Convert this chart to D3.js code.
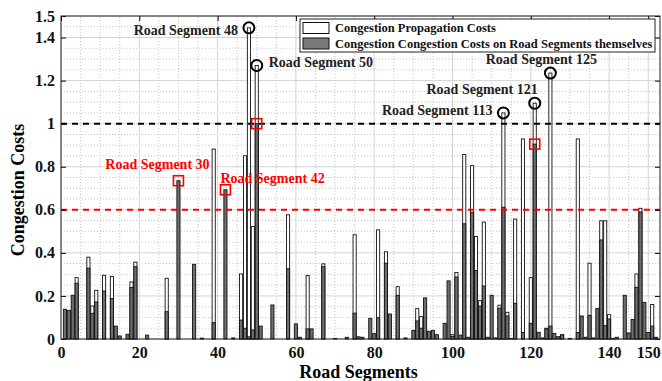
<!DOCTYPE html>
<html lang="en">
<head>
<meta charset="utf-8">
<script src="https://d3js.org/d3.v7.min.js"></script>
<style>
    body { margin: 0; background: #fff; }
    text { font-family: "Liberation Serif", "Times New Roman", serif; font-weight: bold; }
    .grid-major line { stroke: #d4d4d4; stroke-width: 1; }
    .grid-minor line { stroke: #c4c4c4; stroke-width: 1; stroke-dasharray: 1,2; }
</style>
</head>
<body>
<svg id="chart" width="662" height="381"></svg>
<script>
    // road segments 1..152
    var segments = d3.range(1, 153);

    // congestion cost on the road segment itself (dark bars)
    var ownCosts = [
        0.138, 0.133, 0.203, 0.259, 0, 0, 0.329, 0.119, 0.172, 0,
        0.223, 0, 0.188, 0.060, 0.014, 0, 0.022, 0.239, 0.336, 0,
        0, 0.018, 0, 0, 0, 0, 0.127, 0, 0, 0.735,
        0, 0, 0, 0.347, 0, 0.004, 0, 0, 0.076, 0,
        0, 0.693, 0, 0.005, 0, 0.088, 0.050, 0.010, 0.042, 1.000,
        0.060, 0, 0, 0.158, 0, 0, 0, 0.326, 0, 0.070,
        0.008, 0, 0.047, 0.047, 0, 0, 0.336, 0, 0, 0.003,
        0, 0, 0.008, 0, 0.120, 0.010, 0.008, 0, 0.096, 0.025,
        0.099, 0, 0.352, 0.116, 0, 0.203, 0, 0.005, 0, 0.040,
        0.084, 0.050, 0.191, 0.036, 0.040, 0.020, 0, 0.073, 0.270, 0.012,
        0.288, 0.018, 0.535, 0.008, 0.588, 0.318, 0.153, 0.246, 0.008, 0.203,
        0.005, 0.143, 0.612, 0.107, 0.003, 0.166, 0, 0.030, 0, 0.073,
        0.905, 0.031, 0.005, 0.047, 0.060, 0.026, 0.011, 0.019, 0, 0.003,
        0, 0.030, 0.107, 0.008, 0.110, 0.005, 0.141, 0.460, 0.062, 0.093,
        0.003, 0.008, 0, 0.203, 0.028, 0.091, 0.240, 0.590, 0.170, 0.030,
        0.060, 0.008
    ];

    // congestion propagation cost (white bars)
    var propCosts = [
        0, 0, 0, 0.285, 0, 0, 0.380, 0.153, 0.226, 0,
        0.296, 0, 0.291, 0, 0, 0, 0, 0.265, 0.357, 0,
        0, 0, 0, 0, 0, 0, 0.282, 0, 0, 0,
        0, 0, 0, 0, 0, 0, 0, 0, 0.882, 0,
        0, 0, 0, 0, 0, 0.302, 0.851, 1.445, 0.522, 1.270,
        0, 0, 0, 0, 0, 0, 0, 0.577, 0, 0,
        0, 0, 0.295, 0, 0, 0, 0.349, 0, 0, 0,
        0, 0, 0, 0, 0.484, 0, 0, 0, 0, 0,
        0.507, 0, 0.405, 0, 0, 0.243, 0, 0, 0, 0,
        0.141, 0.104, 0, 0, 0, 0, 0, 0, 0, 0.020,
        0.309, 0, 0.857, 0, 0.805, 0.476, 0.178, 0.543, 0, 0,
        0, 0.157, 1.050, 0.124, 0, 0.557, 0, 0.929, 0, 0.285,
        1.095, 0, 0, 0.050, 1.235, 0, 0, 0.020, 0, 0,
        0, 0.929, 0, 0, 0.352, 0, 0, 0.549, 0.549, 0.113,
        0, 0, 0, 0, 0, 0, 0.302, 0.607, 0, 0,
        0.160, 0
    ];

    var xTicks = [0, 20, 40, 60, 80, 100, 120, 140, 150];
    var yTicks = [0, 0.2, 0.4, 0.6, 0.8, 1, 1.2, 1.4, 1.5];
    var thresholds = [1.0, 0.6];

    var legendLabels = ["Congestion Propagation Costs",
                        "Congestion Congestion Costs on Road Segments themselves"];

    // circled peaks (propagation) and boxed peaks (own cost)
    var circledSegs = [48, 50, 113, 121, 125];
    var boxedSegs = [30, 42, 50, 121];
    var labelSegs = [48, 50, 113, 121, 125, 30, 42];

    var svg = d3.select("#chart"),
        margin = {top: 16, right: 2, bottom: 42, left: 61},
        width = +svg.attr("width"),
        height = +svg.attr("height");

    var x = d3.scaleLinear()
        .domain([0, 153])
        .range([margin.left, width - margin.right]);

    var y = d3.scaleLinear()
        .domain([0, 1.5])
        .range([height - margin.bottom, margin.top]);

    var x0 = margin.left, x1 = width - margin.right,
        y0 = height - margin.bottom, y1 = margin.top;

    // minor grid (dotted)
    var xMinor = d3.range(5, 153, 5).filter(d => xTicks.indexOf(d) < 0);
    var yMinor = d3.range(0.05, 1.5, 0.05).filter(d => Math.abs(d * 5 - Math.round(d * 5)) > 1e-6);

    svg.append("g").attr("class", "grid-minor")
        .selectAll("line").data(xMinor).join("line")
        .attr("x1", d => x(d)).attr("x2", d => x(d))
        .attr("y1", y0).attr("y2", y1);
    svg.append("g").attr("class", "grid-minor")
        .selectAll("line").data(yMinor).join("line")
        .attr("x1", x0).attr("x2", x1)
        .attr("y1", d => y(d)).attr("y2", d => y(d));

    // major grid
    svg.append("g").attr("class", "grid-major")
        .selectAll("line").data(xTicks).join("line")
        .attr("x1", d => x(d)).attr("x2", d => x(d))
        .attr("y1", y0).attr("y2", y1);
    svg.append("g").attr("class", "grid-major")
        .selectAll("line").data(yTicks).join("line")
        .attr("x1", x0).attr("x2", x1)
        .attr("y1", d => y(d)).attr("y2", d => y(d));

    var barW = (x(1) - x(0)) * 0.8;

    // white bars behind
    svg.append("g")
        .selectAll("rect").data(segments.filter((s, i) => propCosts[i] > 0)).join("rect")
        .attr("x", s => x(s) - barW / 2)
        .attr("width", barW)
        .attr("y", s => y(propCosts[s - 1]))
        .attr("height", s => y(0) - y(propCosts[s - 1]))
        .attr("fill", "#fff")
        .attr("stroke", "#111")
        .attr("stroke-width", 0.9);

    // dark bars in front
    svg.append("g")
        .selectAll("rect").data(segments.filter((s, i) => ownCosts[i] > 0)).join("rect")
        .attr("x", s => x(s) - barW / 2)
        .attr("width", barW)
        .attr("y", s => y(ownCosts[s - 1]))
        .attr("height", s => y(0) - y(ownCosts[s - 1]))
        .attr("fill", "#6f6f6f")
        .attr("stroke", "#111")
        .attr("stroke-width", 0.9);

    // threshold lines
    svg.append("g")
        .selectAll("line").data(thresholds).join("line")
        .attr("x1", x0).attr("x2", x1)
        .attr("y1", d => y(d)).attr("y2", d => y(d))
        .attr("stroke", (d, i) => i == 0 ? "#000" : "#ff0000")
        .attr("stroke-width", 2)
        .attr("stroke-dasharray", "6,5");

    // axes
    svg.append("g")
        .attr("transform", "translate(" + x0 + ",0)")
        .call(d3.axisLeft(y).tickValues(yTicks).tickSize(-5).tickPadding(6)
            .tickFormat(d => d3.format("~g")(d)))
        .call(g => g.select(".domain").remove())
        .call(g => g.selectAll("text").style("font-size", "16px").attr("fill", "#111"));

    svg.append("g")
        .attr("transform", "translate(" + x1 + ",0)")
        .call(d3.axisRight(y).tickValues(yTicks).tickSize(-5).tickFormat(""))
        .call(g => g.select(".domain").remove());

    svg.append("g")
        .attr("transform", "translate(0," + y0 + ")")
        .call(d3.axisBottom(x).tickValues(xTicks).tickSize(0).tickPadding(8))
        .call(g => g.select(".domain").remove())
        .call(g => g.selectAll("text").style("font-size", "16px").attr("fill", "#111"));

    svg.append("g")
        .attr("transform", "translate(0," + y1 + ")")
        .call(d3.axisTop(x).tickValues(xTicks).tickSize(-5).tickFormat(""))
        .call(g => g.select(".domain").remove());

    // plot box
    svg.append("rect")
        .attr("x", x0).attr("y", y1)
        .attr("width", x1 - x0).attr("height", y0 - y1)
        .attr("fill", "none").attr("stroke", "#222").attr("stroke-width", 1);

    // axis titles
    svg.append("text")
        .attr("x", (x0 + x1) / 2 - 2)
        .attr("y", height - 3)
        .attr("text-anchor", "middle")
        .style("font-size", "18px")
        .text("Road Segments");

    svg.append("text")
        .attr("transform", "translate(24,190) rotate(-90)")
        .attr("text-anchor", "middle")
        .style("font-size", "18px")
        .text("Congestion Costs");

    // markers
    svg.append("g")
        .selectAll("circle").data(circledSegs).join("circle")
        .attr("cx", s => x(s))
        .attr("cy", s => y(propCosts[s - 1]))
        .attr("r", 5.5)
        .attr("fill", "none")
        .attr("stroke", "#000")
        .attr("stroke-width", 2);

    svg.append("g")
        .selectAll("rect").data(boxedSegs).join("rect")
        .attr("x", s => x(s) - 5)
        .attr("y", s => y(ownCosts[s - 1]) - 5)
        .attr("width", 10).attr("height", 10)
        .attr("fill", "none")
        .attr("stroke", "#ff0000")
        .attr("stroke-width", 1.6);

    // labels: offsets from the marked bar top
    var labelPos = {
        48: {dx: -11, dy: 2, anchor: "end", color: "#222", v: propCosts},
        50: {dx: 12, dy: -3, anchor: "start", color: "#222", v: propCosts},
        113: {dx: -11, dy: -3, anchor: "end", color: "#222", v: propCosts},
        121: {dx: 3, dy: -14, anchor: "end", color: "#222", v: propCosts},
        125: {dx: -9, dy: -14, anchor: "middle", color: "#222", v: propCosts},
        30: {dx: -21, dy: -17, anchor: "middle", color: "#ff0000", v: ownCosts},
        42: {dx: -5, dy: -12, anchor: "start", color: "#ff0000", v: ownCosts}
    };

    svg.append("g")
        .selectAll("text").data(labelSegs).join("text")
        .attr("x", s => x(s) + labelPos[s].dx)
        .attr("y", s => y(labelPos[s].v[s - 1]) + labelPos[s].dy)
        .attr("dy", "0.35em")
        .attr("text-anchor", s => labelPos[s].anchor)
        .attr("fill", s => labelPos[s].color)
        .style("font-size", "14px")
        .text(s => "Road Segment " + s);

    // legend
    var legend = svg.append("g").attr("transform", "translate(300,19)");
    legend.append("rect")
        .attr("width", 355).attr("height", 33)
        .attr("fill", "#fff").attr("stroke", "#222").attr("stroke-width", 1);
    legend.selectAll(".patch").data(legendLabels).join("rect")
        .attr("class", "patch")
        .attr("x", 3).attr("y", (d, i) => 3.5 + i * 15.5)
        .attr("width", 26).attr("height", 11)
        .attr("fill", (d, i) => i == 0 ? "#fff" : "#7a7a7a")
        .attr("stroke", "#111").attr("stroke-width", 1);
    legend.selectAll(".lab").data(legendLabels).join("text")
        .attr("class", "lab")
        .attr("x", 35).attr("y", (d, i) => 9 + i * 15.5)
        .attr("dy", "0.35em")
        .style("font-size", "12.5px")
        .attr("fill", "#111")
        .text(d => d);
</script>
</body>
</html>
